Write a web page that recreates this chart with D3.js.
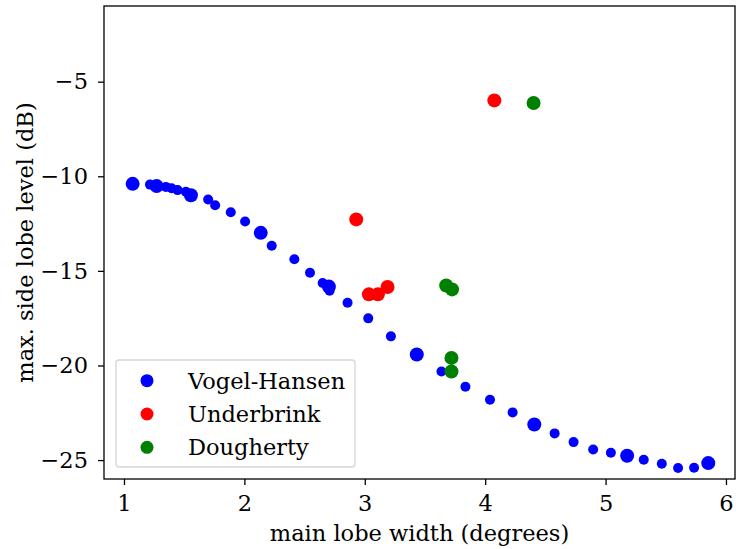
<!DOCTYPE html>
<html lang="en">
<head>
<meta charset="utf-8">
<title>Side lobe level vs main lobe width</title>
<script src="https://cdn.jsdelivr.net/npm/d3@7"></script>
<style>
  body { margin: 0; background: #fff; }
  text { font-family: "DejaVu Serif", serif; }
</style>
</head>
<body>
<script>
// Vogel-Hansen designs (size: 1 = small marker, 2 = large marker)
const vhX = [1.072, 1.216, 1.271, 1.348, 1.395, 1.445, 1.514, 1.556, 1.699, 1.757,
             1.887, 2.006, 2.136, 2.227, 2.415, 2.545, 2.650, 2.702, 2.708, 2.857,
             3.029, 3.217, 3.432, 3.637, 3.836, 4.040, 4.228, 4.408, 4.577, 4.734,
             4.897, 5.044, 5.179, 5.317, 5.467, 5.602, 5.735, 5.853];
const vhY = [-10.40, -10.44, -10.52, -10.56, -10.63, -10.73, -10.82, -11.00, -11.23, -11.53,
             -11.90, -12.39, -12.99, -13.67, -14.39, -15.10, -15.64, -15.83, -16.05, -16.68,
             -17.51, -18.46, -19.42, -20.32, -21.12, -21.81, -22.48, -23.12, -23.59, -24.05,
             -24.44, -24.61, -24.77, -24.98, -25.19, -25.42, -25.41, -25.16];
const vhSize = [2, 1, 2, 1, 1, 1, 1, 2, 1, 1,
                1, 1, 2, 1, 1, 1, 1, 2, 1, 1,
                1, 1, 2, 1, 1, 1, 1, 2, 1, 1,
                1, 1, 2, 1, 1, 1, 1, 2];

const ubX = [2.929, 3.034, 3.109, 3.189, 4.076];
const ubY = [-12.28, -16.24, -16.24, -15.85, -5.99];

const dgX = [3.676, 3.725, 3.720, 3.720, 4.402];
const dgY = [-15.77, -15.98, -19.60, -20.32, -6.13];

const xTicks = [1, 2, 3, 4, 5, 6];
const yTicks = [-25, -20, -15, -10, -5];

const series = [
  {name: "Vogel-Hansen", color: "blue",  x: vhX, y: vhY, s: vhSize},
  {name: "Underbrink",   color: "red",   x: ubX, y: ubY, s: ubX.map(() => 2)},
  {name: "Dougherty",    color: "green", x: dgX, y: dgY, s: dgX.map(() => 2)}
];

const w = 736, h = 549;
const margin = {top: 6, right: 1, bottom: 70, left: 104};
const fs = 22.5;

const svg = d3.select("body").append("svg")
  .attr("width", w).attr("height", h);

const xScale = d3.scaleLinear().domain([0.834, 6.075]).range([margin.left, w - margin.right]);
const yScale = d3.scaleLinear().domain([-26.0, -1.0]).range([h - margin.bottom, margin.top]);
const rScale = d3.scaleOrdinal().domain([1, 2]).range([5, 7]);

series.forEach(sr => {
  svg.append("g").selectAll("circle")
    .data(sr.x.map((v, i) => ({x: v, y: sr.y[i], s: sr.s[i]})))
    .enter().append("circle")
    .attr("cx", d => xScale(d.x))
    .attr("cy", d => yScale(d.y))
    .attr("r", d => rScale(d.s))
    .attr("fill", sr.color);
});

const fmt = d => (d < 0 ? "\u2212" : "") + Math.abs(d);

const xAxis = d3.axisBottom(xScale).tickValues(xTicks).tickSize(6).tickSizeOuter(0).tickPadding(10).tickFormat(fmt);
const yAxis = d3.axisLeft(yScale).tickValues(yTicks).tickSize(6).tickSizeOuter(0).tickPadding(10).tickFormat(fmt);

const gx = svg.append("g").attr("transform", "translate(0," + (h - margin.bottom) + ")").call(xAxis);
const gy = svg.append("g").attr("transform", "translate(" + margin.left + ",0)").call(yAxis);
[gx, gy].forEach(g => {
  g.selectAll("text").style("font-size", fs + "px").attr("fill", "#000");
  g.selectAll("line").attr("stroke", "#000").attr("stroke-width", 1.3);
  g.select(".domain").remove();
});

// frame
svg.append("rect")
  .attr("x", margin.left).attr("y", margin.top)
  .attr("width", w - margin.right - margin.left)
  .attr("height", h - margin.bottom - margin.top)
  .attr("fill", "none").attr("stroke", "#000").attr("stroke-width", 1.3);

svg.append("text")
  .attr("x", (margin.left + w - margin.right) / 2)
  .attr("y", 541)
  .attr("text-anchor", "middle")
  .style("font-size", fs + "px")
  .text("main lobe width (degrees)");

svg.append("text")
  .attr("transform", "translate(33," + ((margin.top + h - margin.bottom) / 2) + ") rotate(-90)")
  .attr("text-anchor", "middle")
  .style("font-size", fs + "px")
  .text("max. side lobe level (dB)");

// legend
const lg = svg.append("g");
lg.append("rect")
  .attr("x", 116).attr("y", 360).attr("width", 239).attr("height", 107)
  .attr("rx", 3).attr("fill", "#fff").attr("fill-opacity", 0.8)
  .attr("stroke", "#d6d6d6").attr("stroke-width", 1.3);
series.forEach((sr, i) => {
  const cy = 380.7 + i * 33.3;
  lg.append("circle").attr("cx", 147).attr("cy", cy).attr("r", 6.5).attr("fill", sr.color);
  lg.append("text").attr("x", 188).attr("y", cy).attr("dy", "0.35em")
    .style("font-size", fs + "px").text(sr.name);
});
</script>
</body>
</html>
